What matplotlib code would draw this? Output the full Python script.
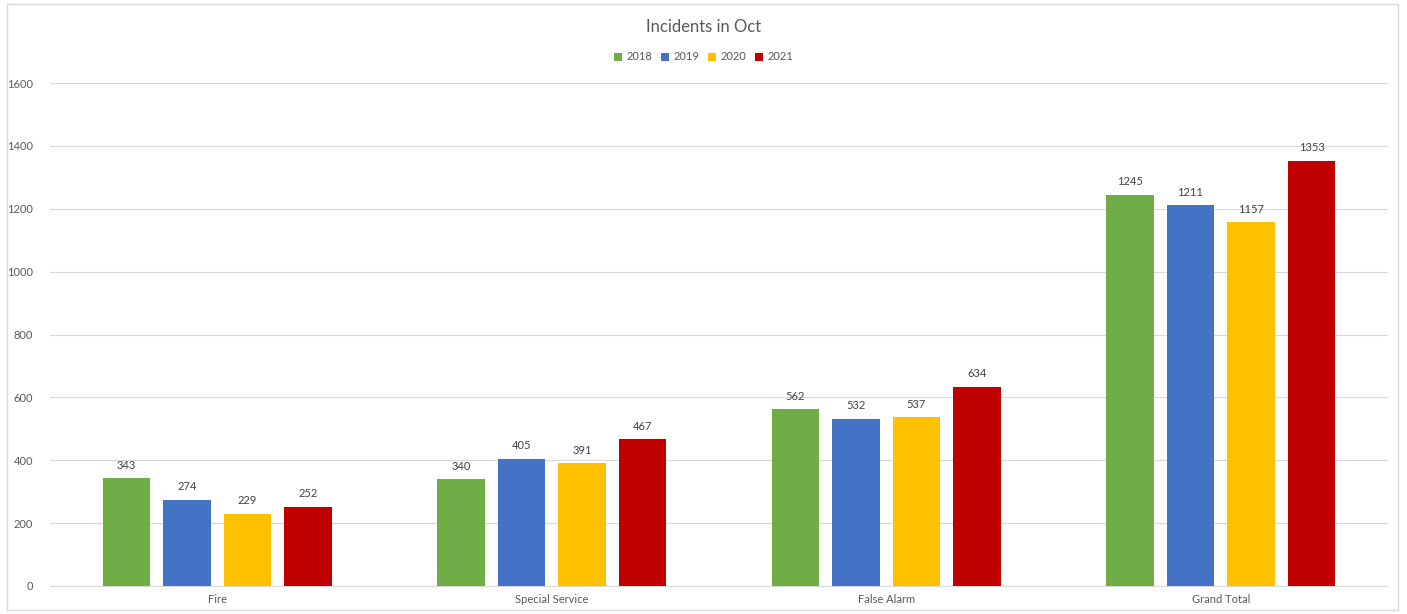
import numpy as np
import matplotlib.pyplot as plt
from matplotlib.patches import Rectangle

plt.rcParams['font.family'] = ['Lato', 'DejaVu Sans']

# data
categories = ['Fire', 'Special Service', 'False Alarm', 'Grand Total']
years = ['2018', '2019', '2020', '2021']
v2018 = [343, 340, 562, 1245]
v2019 = [274, 405, 532, 1211]
v2020 = [229, 391, 537, 1157]
v2021 = [252, 467, 634, 1353]
yticks = [0, 200, 400, 600, 800, 1000, 1200, 1400, 1600]

series = [v2018, v2019, v2020, v2021]
colors = ['#70ad47', '#4472c4', '#ffc000', '#c00000']
txt = '#595959'

fig = plt.figure(figsize=(14.07, 6.14), dpi=100)
ax = fig.add_axes([50 / 1407, 28 / 614, 1338 / 1407, 503 / 614])

x = np.arange(len(categories))
step = 0.181
width = 0.142
for i, (vals, col, yr) in enumerate(zip(series, colors, years)):
    pos = x + (i - 1.5) * step
    bars = ax.bar(pos, vals, width, color=col, label=yr, zorder=3)
    for b, v in zip(bars, vals):
        ax.text(b.get_x() + b.get_width() / 2, v + 24, str(v), ha='center', va='bottom',
                fontsize=8, color='#404040')

ax.set_xlim(-0.5, 3.5)
ax.set_ylim(0, 1600)
ax.set_yticks(yticks)
ax.set_xticks(x)
ax.set_xticklabels(categories)
ax.tick_params(axis='both', length=0, labelsize=8, colors=txt)
ax.tick_params(axis='y', pad=12)
ax.tick_params(axis='x', pad=6)
ax.grid(axis='y', color='#d9d9d9', linewidth=0.8, zorder=0)
for s in ['top', 'right', 'left']:
    ax.spines[s].set_visible(False)
ax.spines['bottom'].set_color('#d9d9d9')

fig.text(0.5, 1 - 27 / 614, 'Incidents in Oct', ha='center', va='center', fontsize=12, color=txt)
fig.legend(loc='center', bbox_to_anchor=(0.5, 1 - 57 / 614), ncol=4, frameon=False,
           fontsize=8, handlelength=0.7, handleheight=0.7, columnspacing=0.8,
           handletextpad=0.4, labelcolor=txt)

fig.patches.append(Rectangle((7 / 1407, 4 / 614), 1391 / 1407, 606 / 614, transform=fig.transFigure,
                             fill=False, edgecolor='#d9d9d9', linewidth=1))

fig.savefig('out.png', dpi=100)
